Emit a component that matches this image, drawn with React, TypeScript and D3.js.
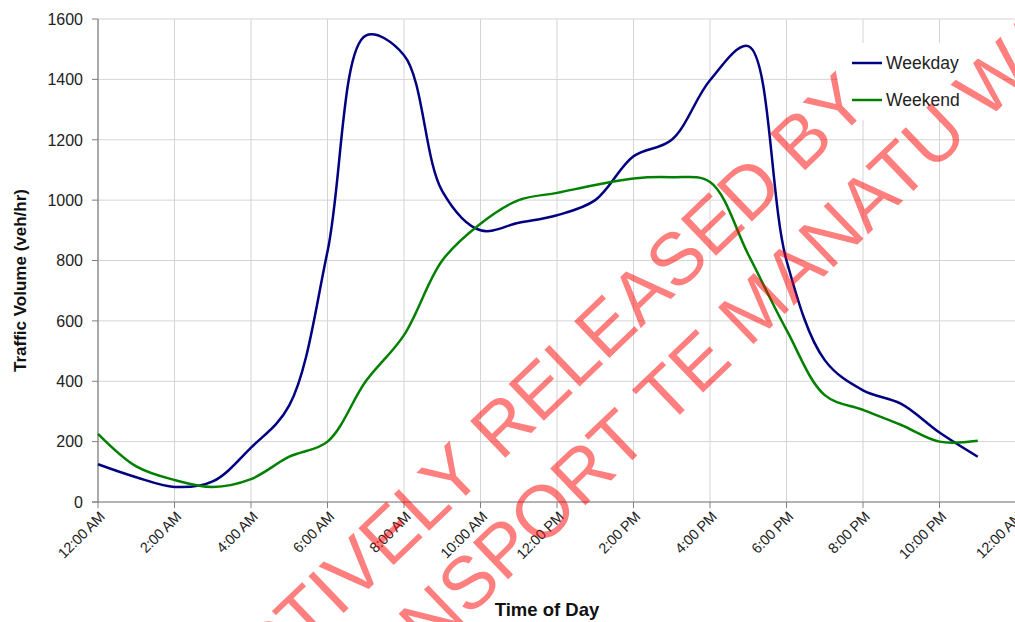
import React from "react";
import * as d3 from "d3";

const hours = [0,1,2,3,4,5,6,7,8,9,10,11,12,13,14,15,16,17,18,19,20,21,22,23];
const weekday = [125,82,50,68,180,320,830,1545,1480,1030,900,925,950,1000,1145,1200,1397,1510,800,470,370,325,230,150];
const weekend = [226,118,73,50,76,150,200,400,553,800,922,1000,1024,1050,1072,1076,1060,820,570,354,305,255,200,203];
const yTicks = [0,200,400,600,800,1000,1200,1400,1600];
const xTickHours = [0,2,4,6,8,10,12,14,16,18,20,22,24];
const xTickLabels = ["12:00 AM","2:00 AM","4:00 AM","6:00 AM","8:00 AM","10:00 AM","12:00 PM","2:00 PM","4:00 PM","6:00 PM","8:00 PM","10:00 PM","12:00 AM"];
const seriesNames = ["Weekday", "Weekend"];
const seriesColors = ["#000080", "#008000"];
const wmLine1a = "PROACTIVELY";
const wmLine1b = "RELEASED BY";
const wmLine2a = "MINISTRY OF TRANSPORT";
const wmLine2b = "TE MANATU WAKA";

const W = 1015, H = 622;
const L = 98, R = 1016, T = 19, B = 502;

export default function App() {
  const x = d3.scaleLinear().domain([0, 24]).range([L, R]);
  const y = d3.scaleLinear().domain([0, 1600]).range([B, T]);
  const line = d3.line<number>()
    .x((_, i) => x(hours[i]))
    .y((d) => y(d))
    .curve(d3.curveCatmullRom.alpha(0.5));
  const font = "'Liberation Sans', Arial, sans-serif";
  const angle = -43.8;
  const wmSize = 74;
  return (
    <div>
      <style>{`body{margin:0}`}</style>
      <svg width={W} height={H} style={{ display: "block", background: "#fff" }} fontFamily={font}>
        {/* gridlines */}
        {yTicks.map((t) => (
          <line key={"gy" + t} x1={L} x2={R} y1={y(t)} y2={y(t)} stroke="#d4d4d4" strokeWidth={1} />
        ))}
        {xTickHours.map((h) => (
          <line key={"gx" + h} x1={x(h)} x2={x(h)} y1={T} y2={B} stroke="#d4d4d4" strokeWidth={1} />
        ))}
        {/* axes */}
        <line x1={L} x2={L} y1={T} y2={B} stroke="#7f7f7f" strokeWidth={1.2} />
        <line x1={L - 6} x2={R} y1={B} y2={B} stroke="#7f7f7f" strokeWidth={1.2} />
        {yTicks.map((t) => (
          <g key={"ty" + t}>
            <line x1={L - 6} x2={L} y1={y(t)} y2={y(t)} stroke="#7f7f7f" />
            <text x={L - 15} y={y(t)} dy="0.36em" textAnchor="end" fontSize={16} fill="#222">{t}</text>
          </g>
        ))}
        {xTickHours.map((h, i) => (
          <g key={"tx" + h}>
            <line x1={x(h)} x2={x(h)} y1={B} y2={B + 6} stroke="#7f7f7f" />
            <text transform={`translate(${x(h) + 4},${B + 12}) rotate(-45)`} textAnchor="end" dy="0.36em" fontSize={14.5} letterSpacing={-0.3} fill="#222">{xTickLabels[i]}</text>
          </g>
        ))}
        {/* series */}
        <path d={line(weekday) || ""} fill="none" stroke={seriesColors[0]} strokeWidth={2.5} />
        <path d={line(weekend) || ""} fill="none" stroke={seriesColors[1]} strokeWidth={2.5} />
        {/* legend */}
        <rect x={838} y={43} width={165} height={77} fill="#fff" />
        {seriesNames.map((n, i) => (
          <g key={n}>
            <line x1={852} x2={882} y1={63 + i * 37} y2={63 + i * 37} stroke={seriesColors[i]} strokeWidth={2.5} />
            <text x={886} y={63 + i * 37} dy="0.36em" fontSize={17.5} fill="#222">{n}</text>
          </g>
        ))}
        {/* axis titles */}
        <text transform={`translate(26,${(T + B) / 2 + 20}) rotate(-90)`} textAnchor="middle" fontSize={17} fontWeight="bold" fill="#111">Traffic Volume (veh/hr)</text>
        <text x={547} y={616} textAnchor="middle" fontSize={18.5} fontWeight="bold" fill="#111">Time of Day</text>
        {/* watermark */}
        <g opacity={0.5} fill="#ff0000" fontSize={wmSize}>
          <g transform={`translate(501,462) rotate(${angle})`}>
            <text x={-wmSize * 0.278} textAnchor="end">{wmLine1a}</text>
            <text x={0}>{wmLine1b}</text>
          </g>
          <g transform={`translate(666,428) rotate(${angle})`}>
            <text x={-wmSize * 0.278} textAnchor="end">{wmLine2a}</text>
            <text x={0}>{wmLine2b}</text>
          </g>
        </g>
      </svg>
    </div>
  );
}
